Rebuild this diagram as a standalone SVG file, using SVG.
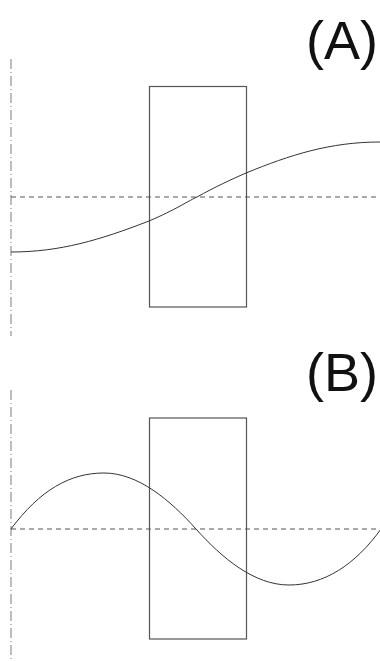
<svg xmlns="http://www.w3.org/2000/svg" width="380" height="661" viewBox="0 0 380 661">
<style>
.axis{stroke:#9a9a9a;stroke-width:1.3;stroke-dasharray:10,3,1,3;fill:none}
.mid{stroke:#555;stroke-width:1;stroke-dasharray:5,4;fill:none}
.box{stroke:#555;stroke-width:1.2;fill:none}
.curve{stroke:#333;stroke-width:1;fill:none}
.lbl{font-family:"Liberation Sans",Arial,sans-serif;font-size:54px;fill:#111;text-anchor:end}
</style>
<rect width="380" height="661" fill="#fff"/>
<g id="panelA">
<line class="axis" x1="11" y1="59" x2="11" y2="336"/>
<line class="mid" x1="11" y1="197" x2="380" y2="197"/>
<rect id="boxA" class="box" x="149.5" y="86.5" width="97" height="220.5"/>
<path id="curveA" class="curve" d="M11,252 C60,252 100,240 149,221 C175,210 190,200 197,197 C215,187 230,180 246,173 C290,155 330,142 380,142"/>
<text class="lbl" x="378" y="58.5">(A)</text>
</g>
<g id="panelB">
<line class="axis" x1="11" y1="390" x2="11" y2="661"/>
<line class="mid" x1="11" y1="529" x2="380" y2="529"/>
<rect id="boxB" class="box" x="149.5" y="418" width="97" height="221"/>
<path id="curveB" class="curve" d="M11,529 C40,490 70,473 104,473 C138,473 170,500 196,529 C222,558 254,585 289,585 C324,585 355,565 381,529"/>
<text class="lbl" x="378" y="390.5">(B)</text>
</g>
</svg>
